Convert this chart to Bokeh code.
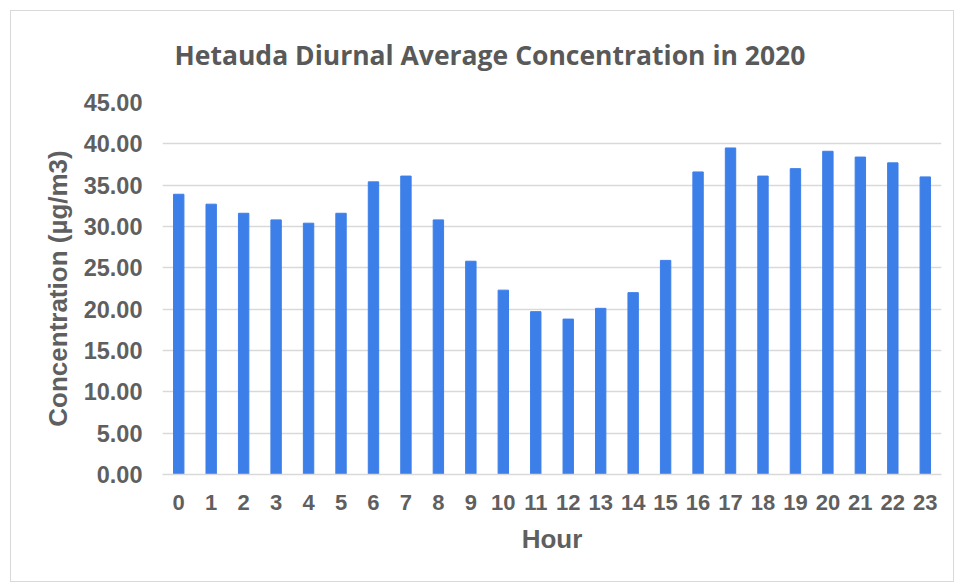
from bokeh.plotting import figure
from bokeh.models import ColumnDataSource, FixedTicker, NumeralTickFormatter, Range1d, FactorRange, InlineStyleSheet
from bokeh.embed import file_html
from bokeh.resources import INLINE

title_text = "Hetauda Diurnal Average Concentration in 2020"
x_title = "Hour"
y_title = "Concentration (µg/m3)"
hours = [str(h) for h in range(24)]
concentration = [33.9, 32.7, 31.6, 30.8, 30.4, 31.6, 35.4, 36.1, 30.8, 25.8,
                 22.3, 19.7, 18.8, 20.1, 22.0, 25.9, 36.6, 39.5, 36.1, 37.0,
                 39.1, 38.4, 37.7, 36.0]
y_ticks = [0, 5, 10, 15, 20, 25, 30, 35, 40, 45]

src = ColumnDataSource(dict(hour=hours, conc=concentration))

p = figure(width=955, height=584, x_range=FactorRange(factors=hours, range_padding=0),
           y_range=Range1d(0, 45), output_backend="svg", toolbar_location=None,
           min_border_left=162, min_border_right=14, min_border_top=102, min_border_bottom=110)

p.vbar(x="hour", top="conc", width=0.32, source=src, color="#3d7fe9")

p.title.text = title_text
p.title.align = "left"
p.title.text_font = "Open Sans"
p.title.text_font_size = "26.5px"
p.title.text_font_style = "bold"
p.title.text_color = "#595959"
p.title.offset = 12
p.title.standoff = 60

p.outline_line_color = None
p.background_fill_color = "white"
p.border_fill_color = "white"
p.stylesheets = [InlineStyleSheet(css=(
    ":host::after { content: ''; position: absolute; left: 10px; top: 10px; "
    "right: 1px; bottom: 2px; border: 1px solid #d9d9d9; "
    "pointer-events: none; z-index: 50; }"
))]

p.xgrid.grid_line_color = None
p.ygrid.grid_line_color = "#d9d9d9"
p.ygrid.grid_line_width = 1.5

p.yaxis.ticker = FixedTicker(ticks=y_ticks)
p.yaxis.formatter = NumeralTickFormatter(format="0.00")
p.yaxis.axis_line_color = None
p.yaxis.major_tick_line_color = None
p.yaxis.minor_tick_line_color = None
p.yaxis.major_label_text_font = "Liberation Sans"
p.yaxis.major_label_text_font_size = "23.5px"
p.yaxis.major_label_text_font_style = "bold"
p.yaxis.major_label_text_color = "#5f5f5f"
p.yaxis.major_label_standoff = 14
p.yaxis.axis_label = y_title
p.yaxis.axis_label_text_font = "Liberation Sans"
p.yaxis.axis_label_text_font_size = "26px"
p.yaxis.axis_label_text_font_style = "bold"
p.yaxis.axis_label_text_color = "#5f5f5f"
p.yaxis.axis_label_standoff = 8

p.xaxis.axis_line_color = "#d9d9d9"
p.xaxis.axis_line_width = 1.5
p.xaxis.major_tick_line_color = None
p.xaxis.minor_tick_line_color = None
p.xaxis.major_label_text_font = "Liberation Sans"
p.xaxis.major_label_text_font_size = "22px"
p.xaxis.major_label_text_font_style = "bold"
p.xaxis.major_label_text_color = "#5f5f5f"
p.xaxis.major_label_standoff = 14
p.xaxis.axis_label = x_title
p.xaxis.axis_label_text_font = "Liberation Sans"
p.xaxis.axis_label_text_font_size = "26px"
p.xaxis.axis_label_text_font_style = "bold"
p.xaxis.axis_label_text_color = "#5f5f5f"
p.xaxis.axis_label_standoff = 11

open("out.html", "w").write(file_html(p, INLINE))
